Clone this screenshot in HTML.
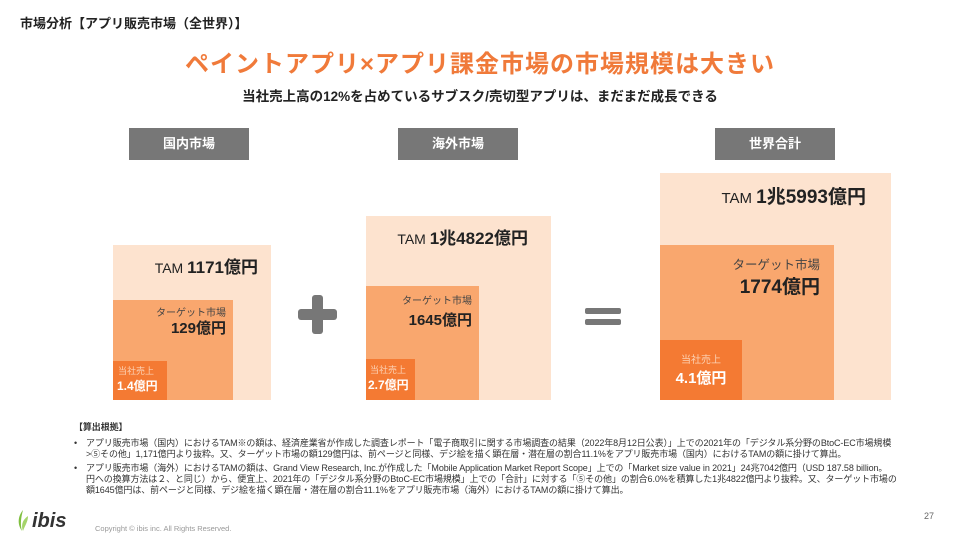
<!DOCTYPE html>
<html><head><meta charset="utf-8"><style>
body{margin:0;width:960px;height:540px;position:relative;background:#fff;font-family:"Liberation Sans","Noto Sans CJK JP",sans-serif;overflow:hidden;color:#222}
.a{position:absolute;white-space:nowrap}
.lab{position:absolute;background:#777;color:#fff;font-size:13px;font-weight:bold;text-align:center;line-height:32px;height:32px;width:120px}
.l{background:#fde3cf}.m{background:#f9a76e}.d{background:#f47a33}
.fn{font-size:9px;color:#333;line-height:11px;letter-spacing:-0.1px}
</style></head><body>
<div class="a" style="left:20px;top:13px;font-size:13px;font-weight:bold">市場分析【アプリ販売市場（全世界）】</div>
<div class="a" style="left:0;width:960px;text-align:center;top:44px;font-size:24px;font-weight:bold;color:#f07a3a;letter-spacing:1px">ペイントアプリ×アプリ課金市場の市場規模は大きい</div>
<div class="a" style="left:0;width:960px;text-align:center;top:85px;font-size:13.5px;font-weight:bold">当社売上高の12%を占めているサブスク/売切型アプリは、まだまだ成長できる</div>

<div class="lab" style="left:129px;top:128px">国内市場</div>
<div class="lab" style="left:398px;top:128px">海外市場</div>
<div class="lab" style="left:715px;top:128px">世界合計</div>

<div class="a l" style="left:113px;top:245px;width:158px;height:155px"></div>
<div class="a m" style="left:113px;top:300px;width:120px;height:100px"></div>
<div class="a d" style="left:113px;top:361px;width:54px;height:39px"></div>
<div class="a" style="left:113px;top:253px;width:145px;text-align:right;font-size:14px">TAM <b style="font-size:17px">1171億円</b></div>
<div class="a" style="left:113px;top:304px;width:113px;text-align:right;font-size:10px;color:#444">ターゲット市場</div>
<div class="a" style="left:113px;top:317px;width:113px;text-align:right;font-size:15px;font-weight:bold">129億円</div>
<div class="a" style="left:118px;top:364px;font-size:9px;color:#fcd2b4">当社売上</div>
<div class="a" style="left:117px;top:377px;font-size:12px;font-weight:bold;color:#fff">1.4億円</div>

<div class="a" style="left:298px;top:309px;width:39px;height:11px;background:#777;border-radius:3px"></div>
<div class="a" style="left:312px;top:295px;width:11px;height:39px;background:#777;border-radius:3px"></div>

<div class="a l" style="left:366px;top:216px;width:185px;height:184px"></div>
<div class="a m" style="left:366px;top:286px;width:113px;height:114px"></div>
<div class="a d" style="left:366px;top:359px;width:49px;height:41px"></div>
<div class="a" style="left:366px;top:224px;width:162px;text-align:right;font-size:14px">TAM <b style="font-size:17px">1兆4822億円</b></div>
<div class="a" style="left:366px;top:292px;width:106px;text-align:right;font-size:10px;color:#444">ターゲット市場</div>
<div class="a" style="left:366px;top:309px;width:106px;text-align:right;font-size:15px;font-weight:bold">1645億円</div>
<div class="a" style="left:370px;top:363px;font-size:9px;color:#fcd2b4">当社売上</div>
<div class="a" style="left:368px;top:376px;font-size:12px;font-weight:bold;color:#fff">2.7億円</div>

<div class="a" style="left:585px;top:308px;width:36px;height:6px;background:#777;border-radius:2px"></div>
<div class="a" style="left:585px;top:319px;width:36px;height:6px;background:#777;border-radius:2px"></div>

<div class="a l" style="left:660px;top:173px;width:231px;height:227px"></div>
<div class="a m" style="left:660px;top:245px;width:174px;height:155px"></div>
<div class="a d" style="left:660px;top:340px;width:82px;height:60px"></div>
<div class="a" style="left:660px;top:182px;width:206px;text-align:right;font-size:15px">TAM <b style="font-size:19px">1兆5993億円</b></div>
<div class="a" style="left:660px;top:254px;width:160px;text-align:right;font-size:12.5px;color:#444">ターゲット市場</div>
<div class="a" style="left:660px;top:272px;width:160px;text-align:right;font-size:19px;font-weight:bold">1774億円</div>
<div class="a" style="left:660px;top:351px;width:82px;text-align:center;font-size:10px;color:#fcd2b4">当社売上</div>
<div class="a" style="left:660px;top:367px;width:82px;text-align:center;font-size:15px;font-weight:bold;color:#fff">4.1億円</div>

<div class="a fn" style="left:74px;top:422px;font-weight:bold">【算出根拠】</div>
<div class="a fn" style="left:74px;top:438px">•</div>
<div class="a fn" style="left:86px;top:438px">アプリ販売市場（国内）におけるTAM※の額は、経済産業省が作成した調査レポート「電子商取引に関する市場調査の結果（2022年8月12日公表）」上での2021年の「デジタル系分野のBtoC-EC市場規模<br>&gt;⑤その他」1,171億円より抜粋。又、ターゲット市場の額129億円は、前ページと同様、デジ絵を描く顕在層・潜在層の割合11.1%をアプリ販売市場（国内）におけるTAMの額に掛けて算出。</div>
<div class="a fn" style="left:74px;top:463px">•</div>
<div class="a fn" style="left:86px;top:463px">アプリ販売市場（海外）におけるTAMの額は、Grand View Research, Inc.が作成した「Mobile Application Market Report Scope」上での「Market size value in 2021」24兆7042億円（USD 187.58 billion。<br>円への換算方法は２、と同じ）から、便宜上、2021年の「デジタル系分野のBtoC-EC市場規模」上での「合計」に対する「⑤その他」の割合6.0%を積算した1兆4822億円より抜粋。又、ターゲット市場の<br>額1645億円は、前ページと同様、デジ絵を描く顕在層・潜在層の割合11.1%をアプリ販売市場（海外）におけるTAMの額に掛けて算出。</div>

<svg class="a" style="left:16px;top:510px" width="14" height="22" viewBox="0 0 14 22"><path d="M7 0C2 6 1 14 6 21C4 14 5 8 7 0Z" fill="#7fbf3f"/><path d="M12 6C6 10 5 16 7 21C9 15 12 12 12 6Z" fill="#a5d46a"/></svg>
<div class="a" style="left:32px;top:510px;font-size:20px;font-style:italic;font-weight:bold;color:#333">ibis</div>
<div class="a" style="left:95px;top:524px;font-size:7.5px;color:#999">Copyright © ibis inc. All Rights Reserved.</div>
<div class="a" style="left:924px;top:511px;font-size:9px;color:#666">27</div>
</body></html>
